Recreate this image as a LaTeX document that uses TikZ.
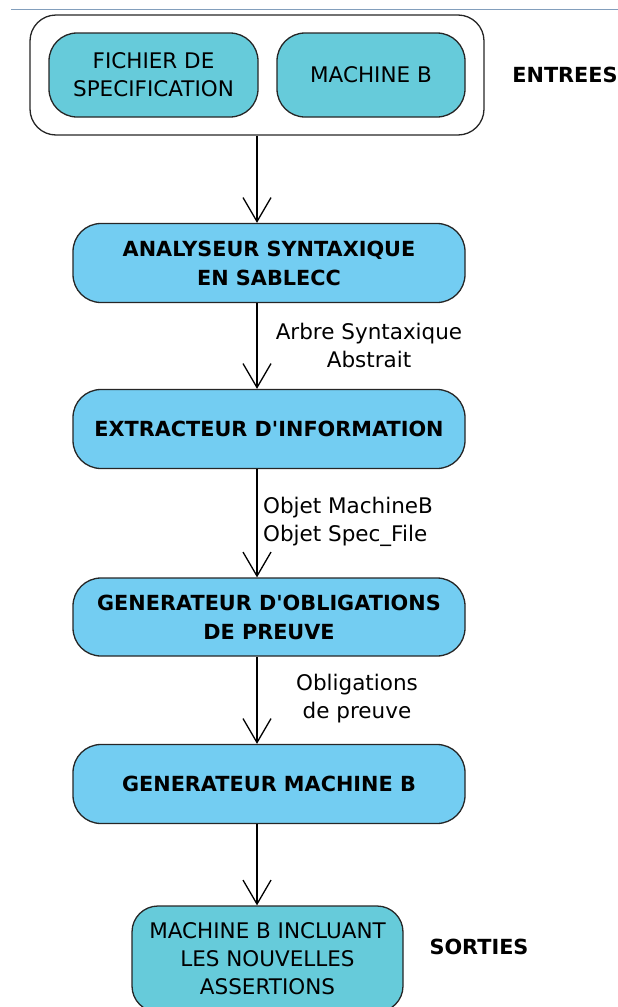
\documentclass[tikz,border=0pt]{standalone}
\usepackage{fontspec}
\setmainfont{DejaVu Sans}
\usetikzlibrary{arrows.meta}
\definecolor{teal1}{RGB}{102,203,218}
\definecolor{blue1}{RGB}{115,205,242}
\definecolor{rule1}{RGB}{130,158,188}
\begin{document}
\begin{tikzpicture}[x=1pt,y=-1pt,
  reg/.style={font=\fontsize{21.5}{28}\selectfont},
  bld/.style={font=\fontsize{20.8}{29}\selectfont\bfseries},
  inbox/.style={draw=black!85, line width=1.3pt, fill=teal1, rounded corners=28pt, inner sep=0pt, align=center, reg},
  procbox/.style={draw=black!85, line width=1.3pt, fill=blue1, rounded corners=28pt, inner sep=0pt, align=center, bld, minimum width=392pt, minimum height=79pt},
  contbox/.style={draw=black!85, line width=1.3pt, rounded corners=26pt, inner sep=0pt},
  lbl/.style={reg, align=center, inner sep=0pt},
  arr/.style={draw=black, line width=1.3pt, -{Straight Barb[length=24pt,width=28pt,line width=1.3pt]}}
]
\useasboundingbox (0,0) rectangle (618,1007);
\draw[rule1, line width=1.5pt] (11,9.5) -- (618,9.5);
\node[contbox, minimum width=454pt, minimum height=120pt] (cont) at (257,75) {};
\node[inbox, minimum width=209pt, minimum height=84pt] (fich) at (153.5,75) {FICHIER DE\\SPECIFICATION};
\node[inbox, minimum width=188pt, minimum height=84pt] (mach) at (371,75) {MACHINE B};
\node[bld, inner sep=0pt] (entr) at (565,75) {ENTREES};
\coordinate (ax) at (257,0);
\node[procbox] (ana) at (269,263) {ANALYSEUR SYNTAXIQUE\\EN SABLECC};
\node[procbox] (ext) at (269,429) {EXTRACTEUR D\textquotesingle INFORMATION};
\node[procbox, minimum height=78pt] (gop) at (269,617) {GENERATEUR D\textquotesingle OBLIGATIONS\\DE PREUVE};
\node[procbox] (gmb) at (269,784) {GENERATEUR MACHINE B};
\node[inbox, minimum width=271pt, minimum height=106pt, rounded corners=26pt] (fin) at (267.5,959) {MACHINE B INCLUANT\\LES NOUVELLES\\ASSERTIONS};
\node[bld, inner sep=0pt] (sort) at (479,947) {SORTIES};
\node[lbl] (l1) at (369,345) {Arbre Syntaxique\\Abstrait};
\node[lbl, align=left] (l2) at (348,522) {Objet MachineB\\Objet Spec\_File};
\node[lbl] (l3) at (357,699) {Obligations\\de preuve};
\draw[arr] (cont.south -| ax) -- (ana.north -| ax);
\draw[arr] (ana.south -| ax) -- (ext.north -| ax);
\draw[arr] (ext.south -| ax) -- (gop.north -| ax);
\draw[arr] (gop.south -| ax) -- (gmb.north -| ax);
\draw[arr] (gmb.south -| ax) -- (fin.north -| ax);
\end{tikzpicture}
\end{document}
